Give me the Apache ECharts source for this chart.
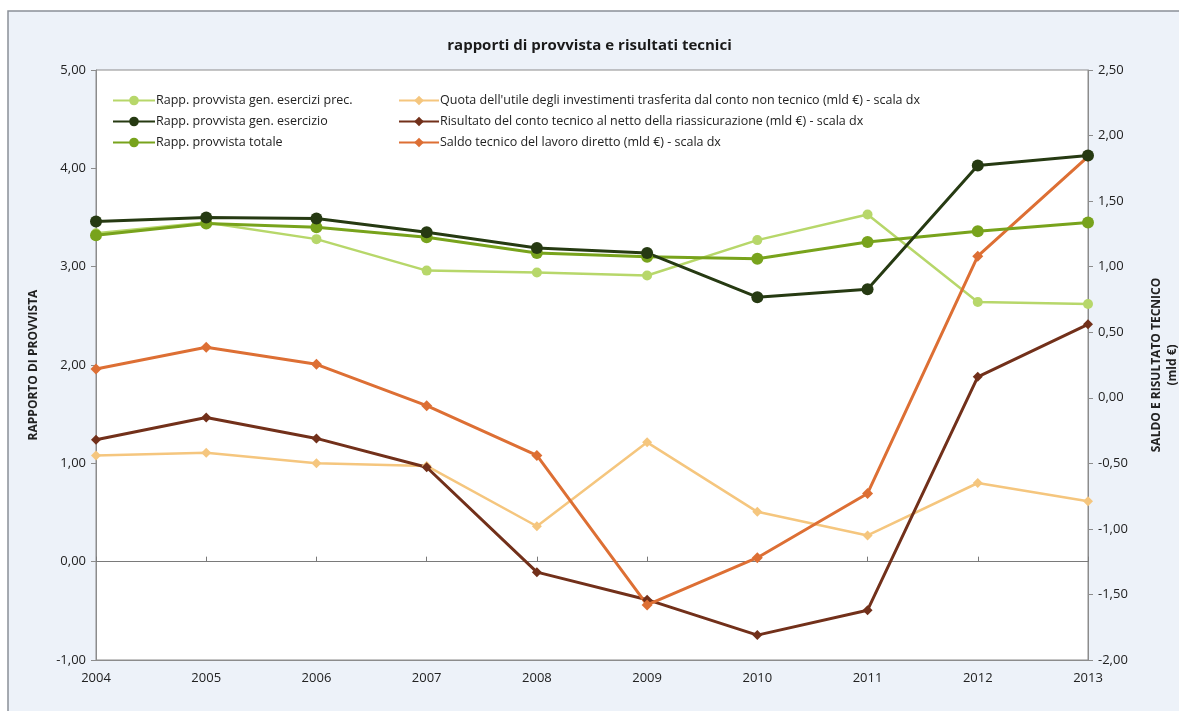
<!DOCTYPE html>
<html>
<head>
<meta charset="utf-8">
<script src="https://cdn.jsdelivr.net/npm/echarts@6/dist/echarts.min.js"></script>
<style>
  html, body { margin: 0; padding: 0; background: #ffffff; }
  #chart { width: 1179px; height: 711px; }
</style>
</head>
<body>
<div id="chart"></div>
<script>
// Anni
const years = ['2004', '2005', '2006', '2007', '2008', '2009', '2010', '2011', '2012', '2013'];

// Rapporti di provvista (scala sx)
const provvistaPrec = [3.34, 3.45, 3.28, 2.96, 2.94, 2.91, 3.27, 3.53, 2.64, 2.62];
const provvistaEsercizio = [3.46, 3.50, 3.49, 3.35, 3.19, 3.14, 2.69, 2.77, 4.03, 4.13];
const provvistaTotale = [3.32, 3.44, 3.40, 3.30, 3.14, 3.10, 3.08, 3.25, 3.36, 3.45];

// Risultati tecnici in mld € (scala dx)
const quotaUtile = [-0.44, -0.42, -0.50, -0.52, -0.98, -0.34, -0.87, -1.05, -0.65, -0.79];
const risultatoNetto = [-0.32, -0.15, -0.31, -0.53, -1.33, -1.54, -1.81, -1.62, 0.16, 0.56];
const saldoDiretto = [0.22, 0.385, 0.255, -0.06, -0.44, -1.58, -1.22, -0.73, 1.08, 1.84];

const names = [
  'Rapp. provvista gen. esercizi prec.',
  'Rapp. provvista gen. esercizio',
  'Rapp. provvista totale',
  "Quota dell'utile degli investimenti trasferita dal conto non tecnico (mld €) - scala dx",
  'Risultato del conto tecnico al netto della riassicurazione (mld €) - scala dx',
  'Saldo tecnico del lavoro diretto (mld €) - scala dx'
];

const FONT = '"Open Sans", sans-serif';
const comma = v => v.toFixed(2).replace('.', ',');

function line(name, data, color, axis, symbol, size, width) {
  return {
    name, type: 'line', data, yAxisIndex: axis,
    symbol, symbolSize: size,
    lineStyle: { color, width },
    itemStyle: { color },
    emphasis: { disabled: true },
    z: 3
  };
}

const legendText = { fontFamily: FONT, fontSize: 12.5, color: '#222', padding: [0, 0, 0, -4] };

const chart = echarts.init(document.getElementById('chart'), null, { renderer: 'canvas' });

chart.setOption({
  animation: false,
  backgroundColor: '#ffffff',
  graphic: [{
    type: 'rect', z: -10, silent: true,
    shape: { x: 8, y: 11, width: 1180, height: 710 },
    style: { fill: '#edf2f9', stroke: '#8b9098', lineWidth: 1.5 }
  }],
  title: {
    text: 'rapporti di provvista e risultati tecnici',
    left: 'center', top: 33,
    textStyle: { fontFamily: FONT, fontSize: 15, fontWeight: 'bold', color: '#1a1a1a' }
  },
  grid: {
    left: 96, right: 91, top: 70, bottom: 51,
    outerBoundsMode: 'none',
    show: true, backgroundColor: '#ffffff', borderColor: '#8c8c8c', borderWidth: 1
  },
  legend: [{
    data: names.slice(0, 3),
    orient: 'vertical', left: 107, top: 89, itemGap: 8,
    itemWidth: 42, itemHeight: 12,
    textStyle: legendText
  }, {
    data: names.slice(3),
    orient: 'vertical', left: 393, top: 89, itemGap: 8,
    itemWidth: 40, itemHeight: 12,
    textStyle: legendText
  }],
  xAxis: [{
    type: 'category', data: years, boundaryGap: false,
    axisLine: { onZero: false, lineStyle: { color: '#8c8c8c' } },
    axisTick: { show: false },
    axisLabel: { fontFamily: FONT, fontSize: 13, color: '#222', margin: 12 }
  }, {
    // linea dello zero sulla scala sinistra
    type: 'category', data: years, boundaryGap: false, position: 'bottom',
    axisLine: { onZero: true, onZeroAxisIndex: 0, lineStyle: { color: '#7a7a7a', width: 1 } },
    axisTick: { show: true, inside: true, length: 5, lineStyle: { color: '#7a7a7a' } },
    axisLabel: { show: false }
  }],
  yAxis: [{
    type: 'value', min: -1, max: 5, interval: 1, position: 'left',
    name: 'RAPPORTO DI PROVVISTA', nameLocation: 'middle', nameGap: 56,
    nameTextStyle: { fontFamily: FONT, fontSize: 12, fontWeight: 'bold', color: '#222' },
    axisLine: { show: true, lineStyle: { color: '#8c8c8c' } },
    axisTick: { show: true, length: 5, lineStyle: { color: '#8c8c8c' } },
    axisLabel: { formatter: comma, fontFamily: FONT, fontSize: 13, color: '#222', margin: 10 },
    splitLine: { show: false }
  }, {
    type: 'value', min: -2, max: 2.5, interval: 0.5, position: 'right',
    name: 'SALDO E RISULTATO TECNICO\n(mld €)', nameLocation: 'middle', nameGap: 61, nameRotate: 90,
    nameTextStyle: { fontFamily: FONT, fontSize: 12, fontWeight: 'bold', color: '#222', lineHeight: 16 },
    axisLine: { show: true, lineStyle: { color: '#8c8c8c' } },
    axisTick: { show: true, length: 5, lineStyle: { color: '#8c8c8c' } },
    axisLabel: { formatter: comma, fontFamily: FONT, fontSize: 13, color: '#222', margin: 10 },
    splitLine: { show: false }
  }],
  series: [
    line(names[0], provvistaPrec, '#b7d76a', 0, 'circle', 10, 2.5),
    line(names[3], quotaUtile, '#f5c67e', 1, 'diamond', 10, 2.5),
    line(names[4], risultatoNetto, '#72301a', 1, 'diamond', 10, 3),
    line(names[5], saldoDiretto, '#dd6f34', 1, 'diamond', 11, 3),
    line(names[2], provvistaTotale, '#78a31c', 0, 'circle', 12, 3),
    line(names[1], provvistaEsercizio, '#263a12', 0, 'circle', 12, 3)
  ]
});
</script>
</body>
</html>
